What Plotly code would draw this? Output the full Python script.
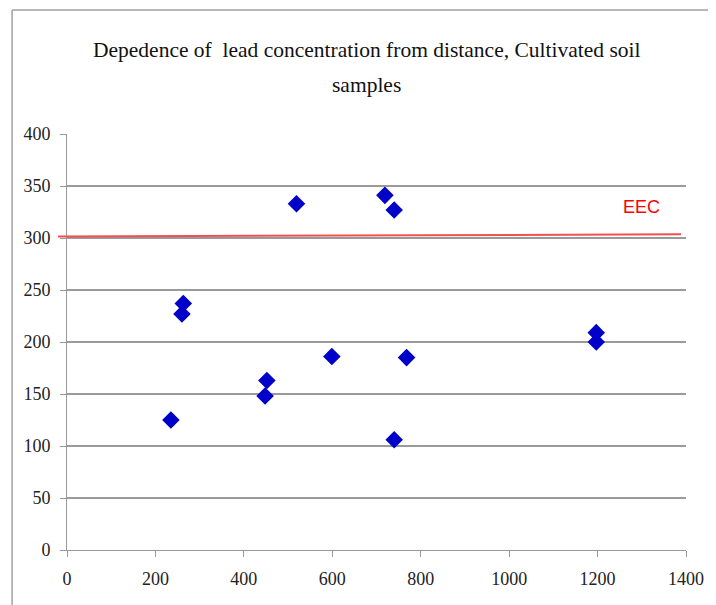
import plotly.graph_objects as go

# Data
distance = [235, 263, 260, 452, 448, 519, 599, 719, 740, 740, 768, 1197, 1197]
lead = [125, 237, 227, 163, 148, 333, 186, 341, 327, 106, 185, 209, 200]

eec_y = [301.5, 303.5]
eec_label = "EEC"

x_ticks = [0, 200, 400, 600, 800, 1000, 1200, 1400]
y_ticks = [0, 50, 100, 150, 200, 250, 300, 350, 400]

title_line1 = "Depedence of\u00a0 lead concentration from distance, Cultivated soil"
title_line2 = "samples"

fig = go.Figure()

fig.add_trace(go.Scatter(
    x=distance, y=lead, mode="markers",
    marker=dict(symbol="diamond", size=13.5, color="#0000C8",
                line=dict(width=0)),
    showlegend=False, cliponaxis=False,
))

serif = "Liberation Serif"

fig.update_layout(
    width=716, height=605,
    margin=dict(l=59, r=38, t=126, b=63),
    paper_bgcolor="white", plot_bgcolor="white",
    showlegend=False,
    xaxis=dict(range=[0, 1400], tickvals=x_ticks, showgrid=False,
               showline=True, linecolor="#999999", linewidth=1,
               ticks="outside", ticklen=6, tickcolor="#999999",
               ticklabelstandoff=6,
               tickfont=dict(family=serif, size=18, color="#222"),
               zeroline=False),
    yaxis=dict(range=[0, 400], tickvals=y_ticks, showgrid=True,
               gridcolor="#9a9a9a", gridwidth=1.5,
               showline=True, linecolor="#999999", linewidth=1,
               ticks="outside", ticklen=6, tickcolor="#999999",
               ticklabelstandoff=6,
               tickfont=dict(family=serif, size=18, color="#222"),
               zeroline=False),
)

# EEC reference line
fig.add_shape(type="line", xref="paper", yref="y",
              x0=-0.0145, x1=0.992, y0=eec_y[0], y1=eec_y[1],
              line=dict(color="#F05050", width=2), layer="above")

fig.add_annotation(x=1300, y=330, xref="x", yref="y", text=eec_label,
                   showarrow=False,
                   font=dict(family="Liberation Sans Narrow, Liberation Sans", size=18, color="#FF0000"))

# Title lines
fig.add_annotation(x=0.484, y=1.202, xref="paper", yref="paper", text=title_line1,
                   showarrow=False, yanchor="middle",
                   font=dict(family=serif, size=21.5, color="#111"))
fig.add_annotation(x=0.484, y=1.118, xref="paper", yref="paper", text=title_line2,
                   showarrow=False, yanchor="middle",
                   font=dict(family=serif, size=21.5, color="#111"))

# Chart frame (top and left edges visible)
fig.add_shape(type="line", xref="paper", yref="paper",
              x0=-0.0887, x1=1.1, y0=1.298, y1=1.298,
              line=dict(color="#a0a0a0", width=1.5))
fig.add_shape(type="line", xref="paper", yref="paper",
              x0=-0.0887, x1=-0.0887, y0=1.298, y1=-0.14,
              line=dict(color="#a0a0a0", width=1.5))

fig.write_html("out.html")
